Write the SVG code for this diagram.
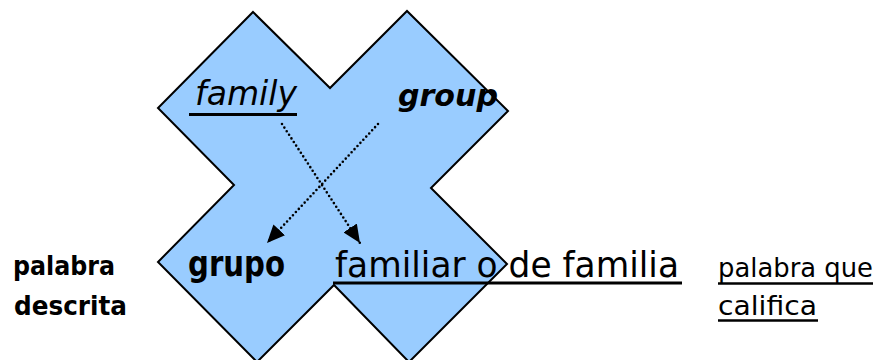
<svg xmlns="http://www.w3.org/2000/svg" width="879" height="360" viewBox="0 0 879 360">
  <defs>
    <marker id="arrow" markerUnits="userSpaceOnUse" markerWidth="19" markerHeight="16" refX="18" refY="8" orient="auto">
      <path d="M0,0 L18,8 L0,16 z" fill="#000"/>
    </marker>
  </defs>
  <style>
    text { font-family: "DejaVu Sans", "Liberation Sans", sans-serif; fill: #000; }
    .b { font-weight: bold; }
    .i { font-style: italic; }
    .ul { stroke: #000; stroke-width: 3.2; }
    .dot { fill: none; stroke: #000; stroke-width: 2.6; stroke-linecap: round; stroke-dasharray: 0 4.3; }
  </style>

  <!-- blue X background -->
  <g id="cross">
    <polygon points="253,12 330,88 407,11 508,111 431,188 507,264 409,362 334,285 257,362 158,262 234,185 158,108"
             fill="#99CCFF" stroke="#000" stroke-width="2" stroke-linejoin="miter"/>
  </g>

  <g id="family">
    <text class="i" x="195" y="105" font-size="34" textLength="102" lengthAdjust="spacingAndGlyphs">family</text>
    <line class="ul" x1="189" y1="114.5" x2="297" y2="114.5"/>
  </g>

  <g id="group">
    <text class="b i" x="398" y="106" font-size="31" textLength="100" lengthAdjust="spacingAndGlyphs">group</text>
  </g>

  <g id="grupo">
    <text class="b" x="188" y="276" font-size="35" textLength="97" lengthAdjust="spacingAndGlyphs">grupo</text>
  </g>

  <g id="familiar">
    <text x="335" y="277" font-size="36" textLength="344" lengthAdjust="spacingAndGlyphs">familiar o de familia</text>
    <line class="ul" x1="333" y1="283" x2="682" y2="283"/>
  </g>

  <g id="descrita">
    <text class="b" x="13" y="275" font-size="26" textLength="102" lengthAdjust="spacingAndGlyphs">palabra</text>
    <text class="b" x="14" y="315" font-size="26" textLength="113" lengthAdjust="spacingAndGlyphs">descrita</text>
  </g>

  <g id="califica">
    <text x="718" y="277" font-size="27" textLength="155" lengthAdjust="spacingAndGlyphs">palabra que</text>
    <line x1="718" y1="283.5" x2="873" y2="283.5" stroke="#000" stroke-width="2.5"/>
    <text x="718" y="315" font-size="27" textLength="99" lengthAdjust="spacingAndGlyphs">califica</text>
    <line x1="718" y1="320.5" x2="818" y2="320.5" stroke="#000" stroke-width="2.5"/>
  </g>

  <!-- dotted translation arrows -->
  <g id="connectors">
    <line class="dot" x1="282" y1="124" x2="360" y2="243" marker-end="url(#arrow)"/>
    <line class="dot" x1="378" y1="124" x2="267" y2="243" marker-end="url(#arrow)"/>
  </g>
</svg>
